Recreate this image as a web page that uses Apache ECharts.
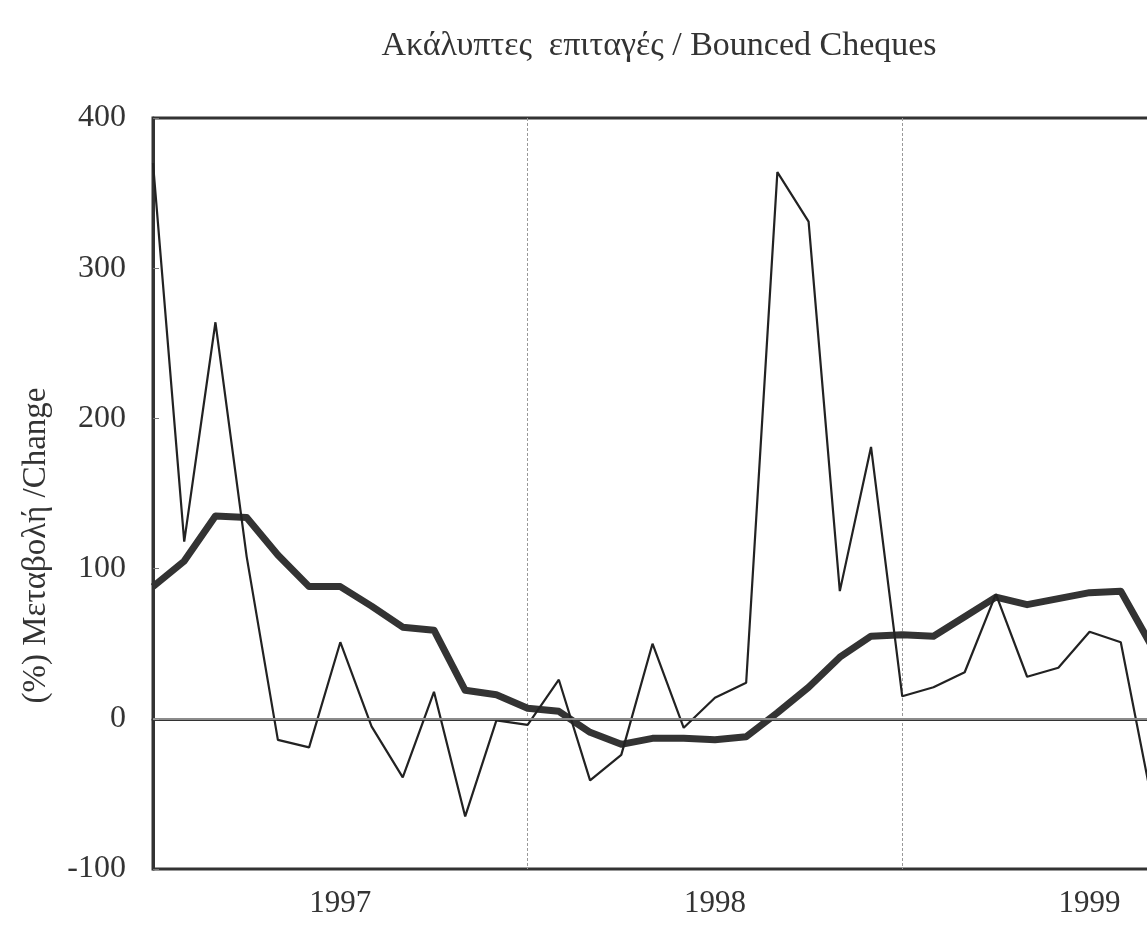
<!DOCTYPE html>
<html>
<head>
<meta charset="utf-8">
<script src="https://cdn.jsdelivr.net/npm/echarts@6/dist/echarts.min.js"></script>
<style>
html,body{margin:0;padding:0;background:#fff;overflow:hidden;}
#chart{width:1154px;height:942px;}
</style>
</head>
<body>
<div id="chart"></div>
<script>
// Month categories (Jan 1997 .. Sep 1999)
const months = ['01','02','03','04','05','06','07','08','09','10','11','12'];
const years = ['1997','1998','1999'];
const categories = [];
for (const y of years) for (const m of months) categories.push(y + '-' + m);
categories.length = 33;

// Monthly % change (thin line)
const monthlyChange = [370, 118, 264, 108, -14, -19, 51, -5, -39, 18, -65, -1,
                       -4, 26, -41, -24, 50, -6, 14, 24, 364, 331, 85, 181,
                       15, 21, 31, 83, 28, 34, 58, 51, -55];
// Smoothed % change (thick line)
const smoothedChange = [88, 105, 135, 134, 109, 88, 88, 75, 61, 59, 19, 16,
                        7, 5, -9, -17, -13, -13, -14, -12, 4, 21, 41, 55,
                        56, 55, 68, 81, 76, 80, 84, 85, 48];
const yTicks = [-100, 0, 100, 200, 300, 400];

const FONT = '"Liberation Serif", "DejaVu Serif", serif';
const chart = echarts.init(document.getElementById('chart'), null, {renderer: 'canvas'});
chart.setOption({
  backgroundColor: '#ffffff',
  animation: false,
  title: {
    text: 'Ακάλυπτες  επιταγές / Bounced Cheques',
    left: 654, top: 24, textAlign: 'center',
    textStyle: {fontFamily: FONT, fontSize: 34, fontWeight: 'normal', color: '#333'}
  },
  grid: {
    left: 153, top: 118, height: 751, width: 999,
    show: true, borderColor: '#333', borderWidth: 3, backgroundColor: 'transparent',
    containLabel: false
  },
  xAxis: {
    type: 'category', data: categories, boundaryGap: false,
    axisLine: {show: true, lineStyle: {color: '#333', width: 3}},
    axisTick: {show: false},
    axisLabel: {
      interval: (i) => i % 12 === 6,
      formatter: (v) => v.slice(0, 4),
      fontFamily: FONT, fontSize: 31, color: '#333', margin: 19
    },
    splitLine: {show: true, interval: (i) => i === 12 || i === 24,
      lineStyle: {color: '#999', width: 1, type: [3, 2]}}
  },
  yAxis: {
    type: 'value', min: yTicks[0], max: yTicks[yTicks.length - 1], interval: 100,
    name: '(%) Μεταβολή /Change', nameLocation: 'middle', nameGap: 100,
    nameTextStyle: {fontFamily: FONT, fontSize: 33, color: '#333', padding: [0, 104, 0, 0]},
    axisLine: {show: true, lineStyle: {color: '#333', width: 3}},
    axisTick: {show: true, inside: true, length: 6, lineStyle: {color: '#777'}},
    axisLabel: {fontFamily: FONT, fontSize: 32, color: '#333', margin: 27},
    splitLine: {show: false}
  },
  series: [
    {
      type: 'line', data: monthlyChange, symbol: 'none',
      lineStyle: {color: '#222', width: 2.2},
      markLine: {
        silent: true, symbol: 'none', label: {show: false},
        lineStyle: {color: '#aaa', width: 1.5, type: 'solid'},
        data: [{yAxis: 0}]
      },
      z: 3
    },
    {
      type: 'line', data: smoothedChange, symbol: 'none',
      lineStyle: {color: '#333', width: 7, join: 'round'},
      z: 2
    }
  ]
});
</script>
</body>
</html>
